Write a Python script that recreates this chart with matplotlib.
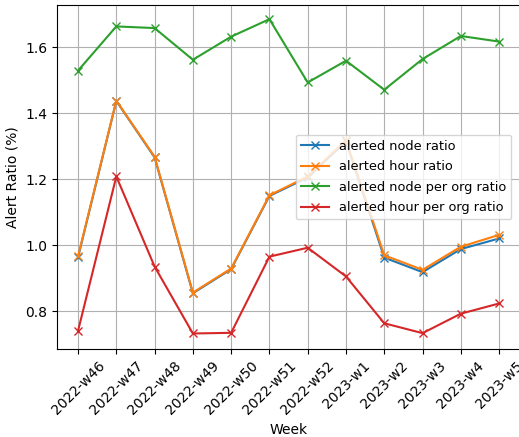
import matplotlib
matplotlib.use("Agg")
import matplotlib.pyplot as plt

weeks = ["2022-w46", "2022-w47", "2022-w48", "2022-w49", "2022-w50", "2022-w51",
         "2022-w52", "2023-w1", "2023-w2", "2023-w3", "2023-w4", "2023-w5"]
node_ratio = [0.963, 1.437, 1.266, 0.854, 0.927, 1.149, 1.205, 1.315, 0.962, 0.918, 0.988, 1.020]
hour_ratio = [0.966, 1.438, 1.268, 0.856, 0.929, 1.151, 1.208, 1.318, 0.969, 0.925, 0.995, 1.031]
node_org_ratio = [1.529, 1.663, 1.658, 1.562, 1.632, 1.685, 1.493, 1.559, 1.471, 1.564, 1.634, 1.617]
hour_org_ratio = [0.740, 1.208, 0.935, 0.732, 0.734, 0.965, 0.992, 0.905, 0.763, 0.733, 0.792, 0.823]

fig = plt.figure(figsize=(5.19, 4.37), dpi=100)
ax = fig.add_axes([0.1098, 0.2014, 0.8924, 0.7872])
x = list(range(len(weeks)))
ax.plot(x, node_ratio, marker='x', label='alerted node ratio')
ax.plot(x, hour_ratio, marker='x', label='alerted hour ratio')
ax.plot(x, node_org_ratio, marker='x', label='alerted node per org ratio')
ax.plot(x, hour_org_ratio, marker='x', label='alerted hour per org ratio')
ax.set_xticks(x)
ax.set_xticklabels(weeks, rotation=45)
ax.set_xlabel('Week')
ax.set_ylabel('Alert Ratio (%)')
ax.set_ylim(0.685, 1.728)
ax.grid(True)
ax.legend(loc='center right', fontsize=9.3, handlelength=2.15, labelspacing=0.57,
          bbox_to_anchor=(0.995, 0.5))
fig.savefig('out.png', dpi=100)
